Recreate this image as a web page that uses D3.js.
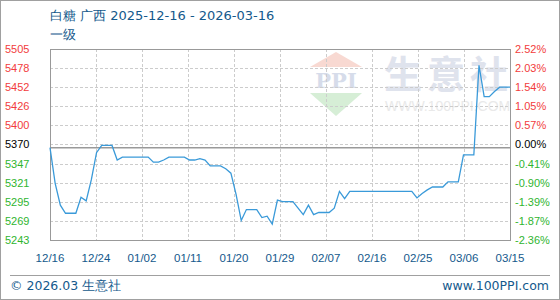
<!DOCTYPE html>
<html>
<head>
<meta charset="utf-8">
<script src="https://cdn.jsdelivr.net/npm/d3@7"></script>
<style>
  body { margin: 0; background: #fff; }
  svg { display: block; }
</style>
</head>
<body>
<svg id="chart"></svg>
<script>
// Chart data
var titleText = "白糖 广西 2025-12-16 - 2026-03-16";
var subTitle = "一级";
var startDate = "2025-12-16";
var endDate = "2026-03-15";
var basePrice = 5370;
var topPct = 2.52, bottomPct = -2.36;
var leftLabels = ["5243", "5269", "5295", "5321", "5347", "5370", "5400", "5426", "5452", "5478", "5505"];
var rightLabels = ["-2.36%", "-1.87%", "-1.39%", "-0.90%", "-0.41%", "0.00%", "0.57%", "1.05%", "1.54%", "2.03%", "2.52%"];
var xLabels = ["12/16", "12/24", "01/02", "01/11", "01/20", "01/29", "02/07", "02/16", "02/25", "03/06", "03/15"];
// one price per day, starting 2025-12-16
var prices = [
  5370, 5321, 5291, 5280, 5280, 5280, 5302, 5297, 5326, 5363,
  5373, 5373, 5373, 5353, 5357, 5357, 5357, 5357, 5357, 5357,
  5350, 5350, 5353, 5357, 5357, 5357, 5357, 5353, 5353, 5355,
  5353, 5345, 5345, 5345, 5341, 5335, 5306, 5270, 5285, 5285,
  5285, 5274, 5276, 5265, 5298, 5296, 5296, 5296, 5287, 5278,
  5291, 5278, 5281, 5281, 5281, 5287, 5310, 5300, 5310, 5310,
  5310, 5310, 5310, 5310, 5310, 5310, 5310, 5310, 5310, 5310,
  5310, 5301, 5307, 5312, 5316, 5316, 5316, 5323, 5323, 5323,
  5360, 5360, 5360, 5483, 5440, 5440, 5447, 5453, 5453, 5453
];

var W = 560, H = 300;
var plot = {left: 50, right: 510, top: 49, bottom: 240};
var red = "#f23c3c", green = "#2fb52f", blue = "#14598c";

var svg = d3.select("#chart").attr("width", W).attr("height", H);

var parse = d3.timeParse("%Y-%m-%d");
var t0 = parse(startDate), t1 = parse(endDate);
var data = prices.map(function(p, i) { return {date: d3.timeDay.offset(t0, i), value: p}; });

var yMin = basePrice * (1 + bottomPct / 100),
    yMax = basePrice * (1 + topPct / 100);

var xScale = d3.scaleTime().domain([t0, t1]).range([plot.left, plot.right]);
var yScale = d3.scaleLinear().domain([yMin, yMax]).range([plot.bottom, plot.top]);

var yTicks = d3.range(leftLabels.length).map(function(i) { return yMin + i * (yMax - yMin) / (leftLabels.length - 1); });
var xTicks = d3.range(xLabels.length).map(function(i) { return new Date(+t0 + i * (t1 - t0) / (xLabels.length - 1)); });

// outer frame
svg.append("rect").attr("x", 0.5).attr("y", 0.5).attr("width", W - 1).attr("height", H - 1)
  .attr("fill", "#fff").attr("stroke", "#a0a0a0");

// watermark
var wm = svg.append("g");
wm.append("path").attr("d", "M336,52 L362,67 L310,67 Z").attr("fill", "#f8d9d2");
wm.append("path").attr("d", "M310,93 L362,93 L336,116 Z").attr("fill", "#d6eed6");
wm.append("text").attr("x", 336).attr("y", 88).attr("text-anchor", "middle")
  .style("font-family", "'DejaVu Serif', serif").style("font-size", "21px").style("font-weight", "bold")
  .attr("fill", "#d6dcea").text("PPI");
wm.append("text").attr("x", 384).attr("y", 88)
  .style("font-family", "'Noto Sans CJK SC'").style("font-size", "38px").style("font-weight", "bold")
  .style("letter-spacing", "5px").attr("fill", "#dfe3ed").text("生意社");
wm.append("text").attr("x", 385).attr("y", 111)
  .style("font-family", "'Liberation Sans'").style("font-size", "14px")
  .attr("fill", "#e9e9e9").text("WWW.100PPI.COM");

// grid
var grid = svg.append("g").attr("stroke", "#cccccc").attr("stroke-dasharray", "3,2");
grid.selectAll("line.h").data(yTicks).enter().append("line")
  .attr("x1", plot.left).attr("x2", plot.right)
  .attr("y1", function(d) { return Math.round(yScale(d)) + 0.5; })
  .attr("y2", function(d) { return Math.round(yScale(d)) + 0.5; });
grid.selectAll("line.v").data(xTicks).enter().append("line")
  .attr("y1", plot.top).attr("y2", plot.bottom)
  .attr("x1", function(d) { return Math.round(xScale(d)) + 0.5; })
  .attr("x2", function(d) { return Math.round(xScale(d)) + 0.5; });

// base price line
svg.append("line").attr("x1", plot.left).attr("x2", plot.right)
  .attr("y1", yScale(basePrice)).attr("y2", yScale(basePrice))
  .attr("stroke", "#999").attr("stroke-width", 1.5);

// plot border
svg.append("rect").attr("x", plot.left + 0.5).attr("y", plot.top + 0.5)
  .attr("width", plot.right - plot.left).attr("height", plot.bottom - plot.top)
  .attr("fill", "none").attr("stroke", "#999");

// price line
var line = d3.line().x(function(d) { return xScale(d.date); }).y(function(d) { return yScale(d.value); });
svg.append("path").datum(data).attr("d", line)
  .attr("fill", "none").attr("stroke", "#3a9ad9").attr("stroke-width", 1.3);

// axis labels
function labelColor(i) { return i > 5 ? red : (i < 5 ? green : "#000"); }
svg.append("g").selectAll("text").data(yTicks).enter().append("text")
  .attr("x", 5).attr("y", function(d) { return yScale(d); }).attr("dy", "0.36em")
  .style("font-family", "'Liberation Sans', Arial").style("font-size", "11px")
  .attr("fill", function(d, i) { return labelColor(i); })
  .text(function(d, i) { return leftLabels[i]; });
svg.append("g").selectAll("text").data(yTicks).enter().append("text")
  .attr("x", 515).attr("y", function(d) { return yScale(d); }).attr("dy", "0.36em")
  .style("font-family", "'Liberation Sans', Arial").style("font-size", "11px")
  .attr("fill", function(d, i) { return labelColor(i); })
  .text(function(d, i) { return rightLabels[i]; });
svg.append("g").selectAll("text").data(xTicks).enter().append("text")
  .attr("x", function(d) { return xScale(d); }).attr("y", 261.5).attr("text-anchor", "middle")
  .style("font-family", "'Liberation Sans', Arial").style("font-size", "11.5px")
  .attr("fill", blue)
  .text(function(d, i) { return xLabels[i]; });

// title
svg.append("text").attr("x", 50).attr("y", 20)
  .style("font-family", "'DejaVu Sans'").style("font-size", "13px")
  .attr("fill", blue).text(titleText);
svg.append("text").attr("x", 50).attr("y", 39)
  .style("font-family", "'DejaVu Sans'").style("font-size", "13px")
  .attr("fill", blue).text(subTitle);

// footer
svg.append("line").attr("x1", 10).attr("x2", 550).attr("y1", 275.5).attr("y2", 275.5)
  .attr("stroke", "#a0a0a0");
svg.append("text").attr("x", 10).attr("y", 290)
  .style("font-family", "'DejaVu Sans'").style("font-size", "12.5px")
  .attr("fill", blue).text("© 2026.03 生意社");
svg.append("text").attr("x", 549).attr("y", 290).attr("text-anchor", "end")
  .style("font-family", "'DejaVu Sans'").style("font-size", "12.5px")
  .attr("fill", blue).text("www.100PPI.com");
</script>
</body>
</html>
